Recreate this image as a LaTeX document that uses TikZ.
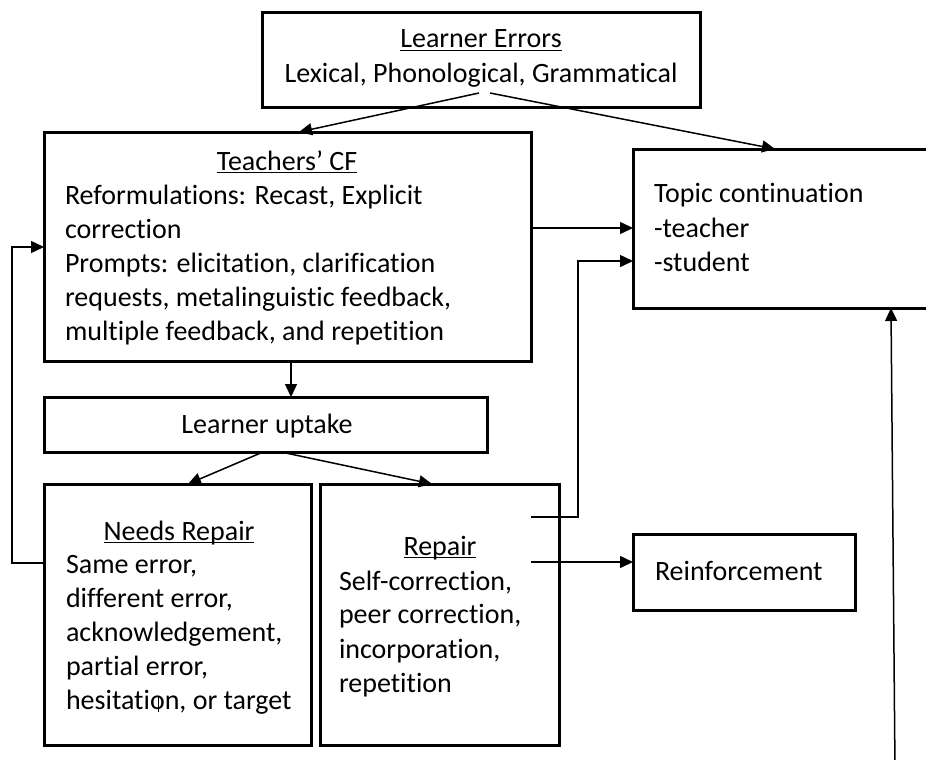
\documentclass[tikz,border=0pt]{standalone}
\usepackage{fontspec}
\setmainfont{Carlito}[Ligatures=NoCommon]
\usetikzlibrary{arrows.meta,calc}
\newcommand\myuline[1]{\setbox0\hbox{#1}\rlap{\rule[-3.2pt]{\wd0}{1.4pt}}\box0}
\tikzset{
  box/.style={draw, line width=3pt, inner sep=0pt, outer sep=0pt, anchor=north west},
  txt/.style={inner sep=0pt, outer sep=0pt, anchor=base west, font=\fontsize{28}{34}\selectfont, text=black},
  ctxt/.style={txt, anchor=base},
  conn/.style={line width=1.5pt, -{Triangle[length=13pt,width=12pt]}},
}
\begin{document}
\begin{tikzpicture}[x=1pt,y=-1pt]
\clip (0,0) rectangle (926,760);
\fill[white] (0,0) rectangle (926,760);
% boxes
\node[box, minimum width=438pt, minimum height=94pt] (errors) at (262,13) {};
\node[box, minimum width=487pt, minimum height=229pt] (tcf) at (44,132) {};
\node[box, minimum width=310pt, minimum height=159pt] (topic) at (633,149) {};
\node[box, minimum width=443pt, minimum height=55pt] (uptake) at (44,397) {};
\node[box, minimum width=267pt, minimum height=261pt] (needs) at (44,484) {};
\node[box, minimum width=239pt, minimum height=261pt] (repair) at (320,484) {};
\node[box, minimum width=222pt, minimum height=76pt] (reinf) at (633,534) {};
% texts
\node[ctxt] (e1) at (481,48) {\myuline{Learner Errors}};
\node[ctxt] (e2) at (481,82) {Lexical, Phonological, Grammatical};
\node[ctxt] (t0) at (287,170) {\myuline{Teachers’ CF}};
\node[txt] (t1) at (65,204) {Reformulations: Recast, Explicit};
\node[txt] (t2) at (65,238) {correction};
\node[txt] (t3) at (65,272) {Prompts: elicitation, clarification};
\node[txt] (t4) at (65,306) {requests, metalinguistic feedback,};
\node[txt] (t5) at (65,340) {multiple feedback, and repetition};
\node[txt] (p1) at (654,202) {Topic continuation};
\node[txt] (p2) at (654,237) {-teacher};
\node[txt] (p3) at (654,271) {-student};
\node[ctxt] (u1) at (267,433) {Learner uptake};
\node[ctxt] (n0) at (179,540) {\myuline{Needs Repair}};
\node[txt] (n1) at (66,573) {Same error,};
\node[txt] (n2) at (66,607) {different error,};
\node[txt] (n3) at (66,641) {acknowledgement,};
\node[txt] (n4) at (66,675) {partial error,};
\node[txt] (n5) at (66,709) {hesitation, or target};
\node[ctxt] (r0) at (440,555) {\myuline{Repair}};
\node[txt] (r1) at (339,590) {Self-correction,};
\node[txt] (r2) at (339,623) {peer correction,};
\node[txt] (r3) at (339,658) {incorporation,};
\node[txt] (r4) at (339,692) {repetition};
\node[txt] (f1) at (655,580) {Reinforcement};
% cursor mark
\draw[line width=1pt] (158,696) -- (158,712);
% free ends
\coordinate (ea) at (479,93);
\coordinate (eb) at (490,93);
\coordinate (ra) at (531,517);
\coordinate (rb) at (531,562);
\coordinate (lowend) at (895,770);
% connectors
\draw[conn] (ea) -- ($(tcf.north west)+(255,0)$);
\draw[conn] (eb) -- ($(topic.north west)+(142,0)$);
\draw[conn] ($(tcf.north east)+(0,96)$) -- ($(topic.north west)+(0,79)$);
\draw[conn] ($(needs.north west)+(0,79)$) -- (12,563) -- (12,247) -- ($(tcf.north west)+(0,115)$);
\draw[conn] ($(tcf.south west)+(247,0)$) -- ($(uptake.north west)+(247,0)$);
\draw[conn] ($(uptake.south west)+(219,0)$) -- ($(needs.north west)+(144,0)$);
\draw[conn] ($(uptake.south west)+(237,0)$) -- ($(repair.north west)+(112,0)$);
\draw[conn] (ra) -- (578,517) -- (578,261) -- ($(topic.north west)+(0,112)$);
\draw[conn] (rb) -- ($(reinf.north west)+(0,28)$);
\draw[conn] (lowend) -- ($(topic.south west)+(258,0)$);
\end{tikzpicture}
\end{document}
